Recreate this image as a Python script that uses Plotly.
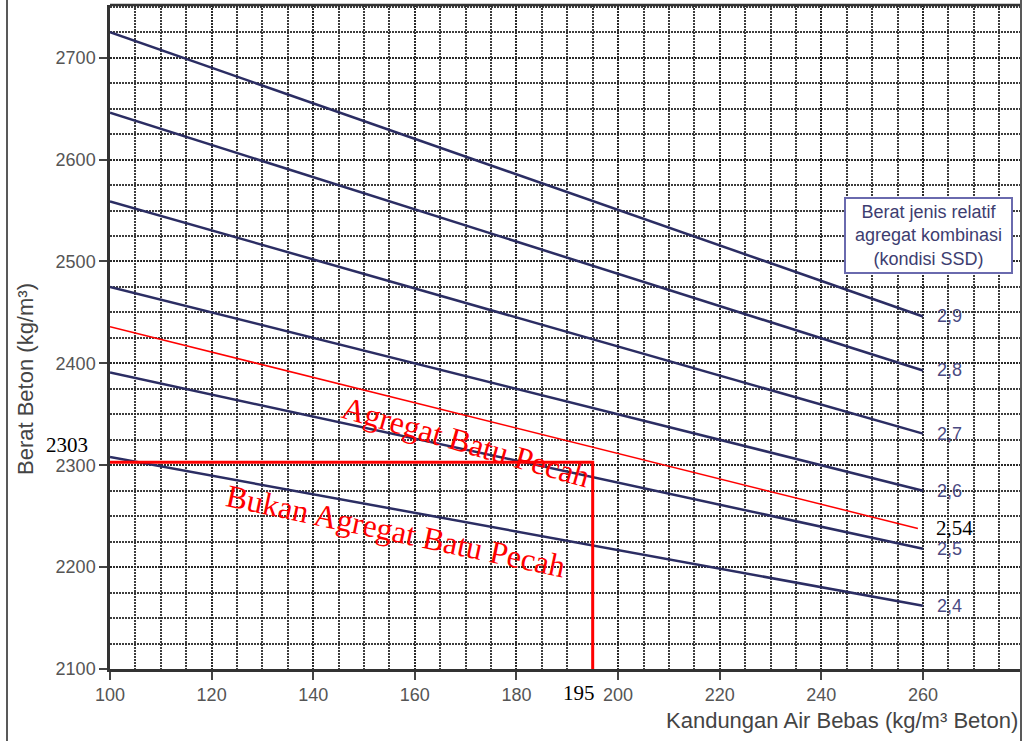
import plotly.graph_objects as go

# Relative specific gravity of the combined aggregate (SSD) for each line
sg_labels = ["2,4", "2,5", "2,6", "2,7", "2,8", "2,9"]
# Free water content (kg/m3 concrete) at the line ends
water = [100, 260]
# Concrete density (kg/m3) at water = 100 and water = 260
density_at_100 = [2308, 2391, 2475, 2559, 2646, 2725]
density_at_260 = [2162, 2218, 2275, 2331, 2393, 2446]

# Interpolated gravity line drawn by hand (2,54)
sg_extra_label = "2,54"
extra_water = [100, 259]
extra_density = [2436, 2238]

# Read-off values for the design mix
water_design = 195
density_design = 2303

# Axis ticks
x_ticks = [100, 120, 140, 160, 180, 200, 220, 240, 260]
y_ticks = [2100, 2200, 2300, 2400, 2500, 2600, 2700]

W, H = 1023, 741
ML, MR, MT, MB = 110, 3, 5, 72
X_RANGE = [100, 279.1]
Y_RANGE = [2100, 2751.7]

NAVY = "#2b2d63"
LABEL_BLUE = "#4a4a82"
GRID = "rgba(40,40,40,0.9)"
SANS = "Arial"
SERIF = "Liberation Serif, Times New Roman, serif"

fig = go.Figure()

for lab, y0, y1 in zip(sg_labels, density_at_100, density_at_260):
    fig.add_trace(go.Scatter(
        x=water, y=[y0, y1], mode="lines",
        line=dict(color=NAVY, width=2.5), showlegend=False, hoverinfo="skip",
    ))
    fig.add_annotation(
        x=water[-1], y=y1, text=lab, showarrow=False,
        xanchor="left", yanchor="middle", xshift=12,
        font=dict(family=SANS, size=18, color=LABEL_BLUE),
    )

# Red 2,54 line
fig.add_trace(go.Scatter(
    x=extra_water, y=extra_density, mode="lines",
    line=dict(color="#ff0000", width=1.5), showlegend=False, hoverinfo="skip",
))
fig.add_annotation(
    x=extra_water[-1], y=extra_density[-1], text=sg_extra_label, showarrow=False,
    xanchor="left", yanchor="middle", xshift=16,
    font=dict(family=SERIF, size=21, color="black"),
)

# Design read-off lines
fig.add_trace(go.Scatter(
    x=[X_RANGE[0], water_design, water_design],
    y=[density_design, density_design, Y_RANGE[0]],
    mode="lines", line=dict(color="#ff0000", width=3),
    showlegend=False, hoverinfo="skip",
))
fig.add_annotation(
    x=X_RANGE[0], y=density_design, text=str(density_design), showarrow=False,
    xanchor="right", yanchor="middle", xshift=-20, yshift=17,
    font=dict(family=SERIF, size=21, color="black"),
)
fig.add_annotation(
    x=water_design, y=Y_RANGE[0], text=str(water_design), showarrow=False,
    xanchor="center", yanchor="top", yshift=-10, xshift=-14,
    font=dict(family=SERIF, size=21, color="black"),
)

# Region labels
fig.add_annotation(
    x=170.1, y=2322.8, text="Agregat Batu Pecah", showarrow=False,
    textangle=16, font=dict(family=SERIF, size=32, color="#ff0000"),
)
fig.add_annotation(
    x=156.3, y=2235.5, text="Bukan Agregat Batu Pecah", showarrow=False,
    textangle=12, font=dict(family=SERIF, size=32, color="#ff0000"),
)

# Key box
fig.add_annotation(
    x=261.1, y=2525, text="Berat jenis relatif<br>agregat kombinasi<br>(kondisi SSD)",
    showarrow=False, xanchor="center", yanchor="middle",
    bgcolor="white", bordercolor="#6a6aae", borderwidth=2, borderpad=3,
    width=159, align="center",
    font=dict(family=SANS, size=18, color="#3d3d70"),
)

# Axis titles
fig.add_annotation(
    xref="paper", yref="paper", x=(25 - ML) / (W - ML - MR),
    y=(H - MB - 379) / (H - MT - MB),
    text="Berat Beton (kg/m³)", textangle=-90, showarrow=False,
    xanchor="center", yanchor="middle",
    font=dict(family=SANS, size=22, color="#444444"),
)
fig.add_annotation(
    xref="paper", yref="paper", x=1.0,
    y=-(720 - (H - MB)) / (H - MT - MB),
    text="Kandungan Air Bebas (kg/m³ Beton)", showarrow=False,
    xanchor="right", yanchor="middle",
    font=dict(family=SANS, size=22, color="#444444"),
)

# Outer frame
for px in (7, 1021):
    xp = (px - ML) / (W - ML - MR)
    fig.add_shape(type="line", xref="paper", yref="paper",
                  x0=xp, x1=xp, y0=-(MB) / (H - MT - MB), y1=1 + MT / (H - MT - MB),
                  line=dict(color="#222222", width=1.5))

axis_common = dict(
    showgrid=True, gridcolor=GRID, gridwidth=1.6, griddash="2px,1px",
    zeroline=False, showline=True, linecolor="#333333", linewidth=2.5,
    ticks="outside", ticklen=8, tickcolor="#444444", tickwidth=1.5,
    tickfont=dict(family=SANS, size=18, color="#555555"),
)

fig.update_xaxes(
    range=X_RANGE, tickvals=x_ticks, mirror=False,
    minor=dict(dtick=5, tick0=100, showgrid=True, gridcolor=GRID,
               gridwidth=1.6, griddash="2px,1px", ticks=""),
    **axis_common,
)
fig.update_yaxes(
    range=Y_RANGE, tickvals=y_ticks,
    minor=dict(dtick=25, tick0=2100, showgrid=True, gridcolor=GRID,
               gridwidth=1.6, griddash="2px,1px", ticks=""),
    **axis_common,
)

# Top border of the plot area
fig.add_shape(type="line", xref="paper", yref="paper", x0=0, x1=1, y0=1, y1=1,
              line=dict(color="#333333", width=2.5))

fig.update_layout(
    width=W, height=H,
    margin=dict(l=ML, r=MR, t=MT, b=MB),
    plot_bgcolor="white", paper_bgcolor="white",
    showlegend=False,
)

fig.write_html("out.html")
